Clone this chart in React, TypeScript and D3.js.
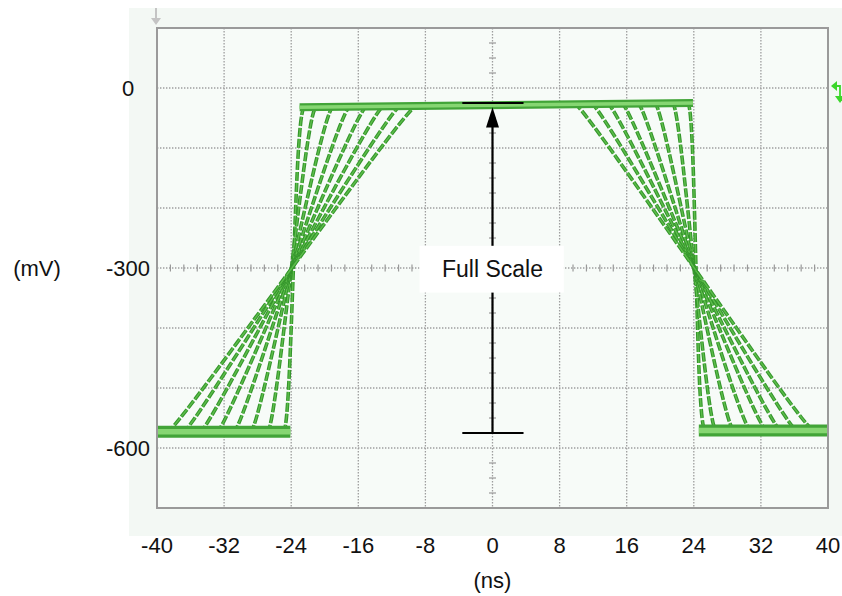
import React from 'react';
import * as d3 from 'd3';

const xTicks = [-40, -32, -24, -16, -8, 0, 8, 16, 24, 32, 40];
const yGrid = [0, -100, -200, -300, -400, -500, -600];
const yLabels = [0, -300, -600];

// levels (mV)
const lowLeft = -573;
const lowRight = -571;
const highStart = -32;
const highEnd = -25;

// rising edges: time leaving low level, time reaching high level (ns)
const riseLowT = [-24.3, -26.2, -28.2, -30.2, -32.2, -34.2, -36.2, -38.1];
const riseHighT = [-23.2, -21.8, -19.8, -17.8, -15.8, -13.8, -11.8, -9.9];
// falling edges: time leaving high level, time reaching low level (ns)
const fallHighT = [23.9, 22.1, 20.0, 18.0, 16.1, 14.4, 12.5, 10.5];
const fallLowT = [24.6, 25.9, 28.0, 30.0, 31.9, 33.6, 35.5, 37.5];

const W = 842;
const H = 596;

export default function App() {
  const x = d3.scaleLinear().domain([-40, 40]).range([157, 828]);
  const y = d3.scaleLinear().domain([100, -700]).range([28, 508]);
  const line = d3.line<[number, number]>().x(d => x(d[0])).y(d => y(d[1]));
  const curved = d3.line<[number, number]>().x(d => x(d[0])).y(d => y(d[1])).curve(d3.curveBasis);

  const hvAt = (t: number) => highStart + (highEnd - highStart) * ((t + 23.2) / 47.1);
  const riseEdges = riseLowT.map((lo, i) => {
    const hi = riseHighT[i];
    const hv = hvAt(hi);
    return [[lo - 0.8, lowLeft], [lo, lowLeft], [hi, hv], [hi + 1.0, hv]] as [number, number][];
  });
  const fallEdges = fallHighT.map((hi, i) => {
    const lo = fallLowT[i];
    const hv = hvAt(hi);
    return [[hi - 0.8, hv], [hi, hv], [lo, lowRight], [lo + 1.0, lowRight]] as [number, number][];
  });

  const hMinor = d3.range(-40, 40.01, 1.6).filter(t => Math.abs(t / 8 - Math.round(t / 8)) > 0.01);
  const vMinor = d3.range(100, -700.01, -25).filter(v => Math.abs(v / 100 - Math.round(v / 100)) > 0.01);

  const font = "'Liberation Sans', Arial, Helvetica, sans-serif";
  const bands: [number, number][][] = [
    [[-40, lowLeft], [-24.1, lowLeft]],
    [[-23.0, highStart], [23.9, highEnd]],
    [[24.6, lowRight], [40, lowRight]],
  ];

  return (
    <svg width={W} height={H} style={{ position: 'absolute', left: 0, top: 0, display: 'block' }} fontFamily={font}>
      <rect x={0} y={0} width={W} height={H} fill="#ffffff" />
      <rect x={129} y={8} width={W - 129} height={528} fill="#f3f8f4" />
      <rect x={x(-40)} y={y(100)} width={x(40) - x(-40)} height={y(-700) - y(100)} fill="#f7fbf8" />

      {/* grid */}
      {xTicks.slice(1, -1).map(t => (
        <line key={'gx' + t} x1={x(t)} x2={x(t)} y1={y(100)} y2={y(-700)} stroke="#9e9e9e" strokeWidth={1.3} strokeDasharray="1.4 1.6" />
      ))}
      {yGrid.map(v => (
        <line key={'gy' + v} x1={x(-40)} x2={x(40)} y1={y(v)} y2={y(v)} stroke="#9e9e9e" strokeWidth={1.3} strokeDasharray="1.4 1.6" />
      ))}
      {hMinor.map(t => (
        <line key={'hm' + t} x1={x(t)} x2={x(t)} y1={y(-300) - 3.5} y2={y(-300) + 3.5} stroke="#999" strokeWidth={1.2} />
      ))}
      {vMinor.map(v => (
        <line key={'vm' + v} x1={x(0) - 3.5} x2={x(0) + 3.5} y1={y(v)} y2={y(v)} stroke="#999" strokeWidth={1.2} />
      ))}

      {/* traces */}
      {riseEdges.concat(fallEdges).map((pts, i) => (
        <g key={'e' + i}>
          <path d={curved(pts) || ''} fill="none" stroke="#35962c" strokeWidth={3.6} strokeDasharray="9 2" />
          <path d={curved(pts) || ''} fill="none" stroke="#5dbd4b" strokeWidth={1.4} strokeDasharray="9 2" />
        </g>
      ))}
      {bands.map((pts, i) => (
        <g key={'b' + i}>
          <path d={line(pts) || ''} fill="none" stroke="#42a438" strokeWidth={i === 1 ? 8 : 12} />
          <path d={line(pts) || ''} fill="none" stroke="#86d672" strokeWidth={i === 1 ? 3.5 : 5.5} />
        </g>
      ))}

      {/* full-scale arrow */}
      <line x1={x(0)} x2={x(0)} y1={y(-575)} y2={y(-62)} stroke="#000" strokeWidth={2.2} />
      <path d={`M${x(0)},${y(-32)} L${x(0) - 6.5},${y(-66)} L${x(0) + 6.5},${y(-66)} Z`} fill="#000" />
      <line x1={x(-3.6)} x2={x(3.7)} y1={y(-25)} y2={y(-25)} stroke="#000" strokeWidth={2} />
      <line x1={x(-3.6)} x2={x(3.7)} y1={y(-575)} y2={y(-575)} stroke="#000" strokeWidth={2} />
      <rect x={x(-8.7)} y={y(-263)} width={x(8.5) - x(-8.7)} height={y(-341) - y(-263)} fill="#ffffff" />
      <text x={x(0)} y={y(-302)} textAnchor="middle" dominantBaseline="central" fontSize={23} fill="#111">Full Scale</text>

      {/* border */}
      <rect x={x(-40)} y={y(100)} width={x(40) - x(-40)} height={y(-700) - y(100)} fill="none" stroke="#9a9a9a" strokeWidth={2} />

      {/* markers */}
      <line x1={156} x2={156} y1={8} y2={19} stroke="#c4c4c4" strokeWidth={2} />
      <path d="M151,18 L161,18 L156,25 Z" fill="#c4c4c4" />
      <path d="M831,86 L837,81 L837,91 Z" fill="#3bd62a" />
      <path d="M836,86 L840,86 L840,97" fill="none" stroke="#3bd62a" strokeWidth={1.8} />
      <path d="M835,96 L845,96 L840,103 Z" fill="#3bd62a" />

      {/* labels */}
      {xTicks.map(t => (
        <text key={'xl' + t} x={x(t)} y={553} textAnchor="middle" fontSize={22} fill="#111">{t}</text>
      ))}
      {yLabels.map(v => (
        <text key={'yl' + v} x={128} y={y(v)} textAnchor="middle" dominantBaseline="central" fontSize={22} fill="#111">{v}</text>
      ))}
      <text x={37} y={y(-300)} textAnchor="middle" dominantBaseline="central" fontSize={22} fill="#111">(mV)</text>
      <text x={x(0)} y={588} textAnchor="middle" fontSize={22} fill="#111">(ns)</text>
    </svg>
  );
}
